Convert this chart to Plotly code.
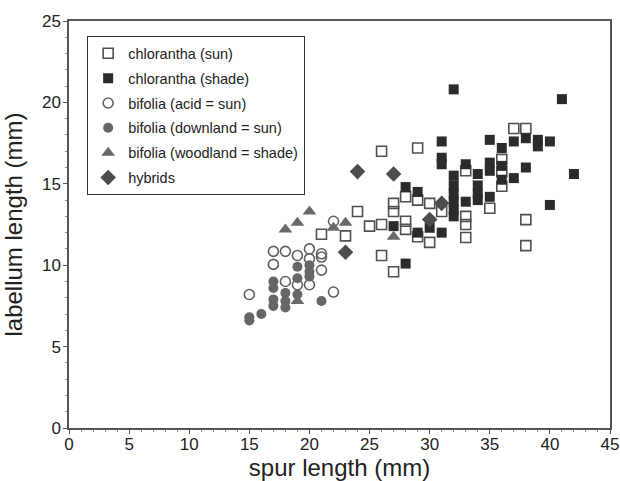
import plotly.graph_objects as go

# chlorantha (sun) - open squares
chl_sun_x = [21, 23, 24, 25, 26, 26, 26, 27, 27, 27, 28, 28, 28, 29, 29, 29, 30, 30, 31,
             33, 33, 33, 33, 35, 36, 36, 36, 37, 38, 38, 38]
chl_sun_y = [11.9, 11.8, 13.3, 12.4, 17.0, 12.5, 10.6, 13.8, 13.3, 9.6, 14.2, 12.7, 12.2,
             17.2, 14.0, 11.75, 13.8, 11.4, 13.3,
             15.8, 13.0, 12.5, 11.7, 13.5, 16.5, 15.75, 14.85, 18.4, 18.4, 12.8, 11.2]

# chlorantha (shade) - filled squares
chl_shade_x = [27, 28, 28, 29, 29, 30, 31, 31, 31, 31, 32, 32, 32, 32, 32, 32, 32,
               33, 33, 34, 34, 34, 34, 35, 35, 35, 35, 36, 36, 36, 37, 37, 38, 38,
               39, 39, 40, 40, 41, 42]
chl_shade_y = [12.4, 14.8, 10.1, 14.5, 12.0, 12.3, 17.6, 16.6, 16.2, 12.0, 20.8, 15.5, 14.9,
               14.4, 13.9, 13.4, 13.0,
               16.2, 13.9, 15.6, 14.9, 14.4, 14.0, 17.7, 16.3, 15.8, 14.2, 17.2, 16.1, 15.25,
               17.6, 15.35, 17.8, 16.0,
               17.7, 17.3, 17.6, 13.7, 20.2, 15.6]

# bifolia (acid = sun) - open circles
bif_acid_x = [15, 17, 17, 18, 18, 19, 19, 20, 20, 20, 21, 21, 21, 22, 22]
bif_acid_y = [8.2, 10.85, 10.05, 10.85, 9.0, 10.6, 8.8, 11.0, 10.4, 8.8, 10.7, 10.5, 9.7, 12.7, 8.35]

# bifolia (downland = sun) - filled grey circles
bif_down_x = [15, 15, 16, 17, 17, 17, 17, 18, 18, 18, 19, 19, 19, 20, 20, 20, 21]
bif_down_y = [6.8, 6.6, 7.0, 9.0, 8.6, 7.9, 7.5, 8.3, 7.8, 7.4, 9.9, 9.2, 8.2, 10.0, 9.6, 9.3, 7.8]

# bifolia (woodland = shade) - triangles
bif_wood_x = [18, 19, 20, 22, 23, 27, 19]
bif_wood_y = [12.2, 12.6, 13.3, 12.3, 12.6, 11.75, 7.8]

# hybrids - diamonds
hyb_x = [24, 27, 23, 31, 30]
hyb_y = [15.75, 15.6, 10.8, 13.8, 12.8]

x_ticks = [0, 5, 10, 15, 20, 25, 30, 35, 40, 45]
y_ticks = [0, 5, 10, 15, 20, 25]

FONT = "Liberation Sans, Arial, Helvetica, sans-serif"
AX = "#555555"

fig = go.Figure()

series = [
    ("chlorantha (sun)", chl_sun_x, chl_sun_y,
     dict(symbol="square-open", size=10, color="#505050", line=dict(width=1.6, color="#505050"))),
    ("chlorantha (shade)", chl_shade_x, chl_shade_y,
     dict(symbol="square", size=10, color="#2b2b2b", line=dict(width=0))),
    ("bifolia (acid = sun)", bif_acid_x, bif_acid_y,
     dict(symbol="circle-open", size=10, color="#606060", line=dict(width=1.6, color="#606060"))),
    ("bifolia (downland = sun)", bif_down_x, bif_down_y,
     dict(symbol="circle", size=10, color="#666666", line=dict(width=0))),
    ("bifolia (woodland = shade)", bif_wood_x, bif_wood_y,
     dict(symbol="triangle-up", size=12, color="#6a6a6a", line=dict(width=0))),
    ("hybrids", hyb_x, hyb_y,
     dict(symbol="diamond", size=12, color="#4d4d4d", line=dict(width=0))),
]

for i, (name, xs, ys, mk) in enumerate(series):
    fig.add_trace(go.Scatter(x=xs, y=ys, mode="markers", name=name, marker=mk,
                             legendgroup=f"g{i}"))

axis_common = dict(
    showline=True, linecolor=AX, linewidth=1.5, mirror=True,
    ticks="outside", ticklen=4, tickwidth=1.3, tickcolor=AX,
    showgrid=False, zeroline=False, automargin=False, ticklabeloverflow="allow",
    tickfont=dict(family=FONT, size=17, color="#222222"),
    minor=dict(ticks="outside", ticklen=2.5, tickwidth=1, tickcolor="#888888", dtick=1, showgrid=False),
)

fig.update_xaxes(range=[0, 45], tickvals=x_ticks, ticktext=[str(v) for v in x_ticks],
                 ticklabelstandoff=-4,
                 title=dict(text="spur length (mm)", font=dict(family=FONT, size=24, color="#222222")),
                 **axis_common)
fig.update_yaxes(range=[0, 25], tickvals=y_ticks, ticktext=[str(v) for v in y_ticks],
                 ticklabelstandoff=-1,
                 title=dict(text="labellum length (mm)", font=dict(family=FONT, size=24, color="#222222")),
                 **axis_common)

fig.update_layout(
    width=620, height=481,
    margin=dict(l=69, r=10, t=21, b=53),
    plot_bgcolor="white", paper_bgcolor="white",
    legend=dict(x=0.033, y=0.963, xanchor="left", yanchor="top",
                bordercolor="#333333", borderwidth=1.3, bgcolor="white",
                font=dict(family=FONT, size=14.5, color="#222222"),
                tracegroupgap=3),
    showlegend=True,
)

fig.write_html("out.html")
